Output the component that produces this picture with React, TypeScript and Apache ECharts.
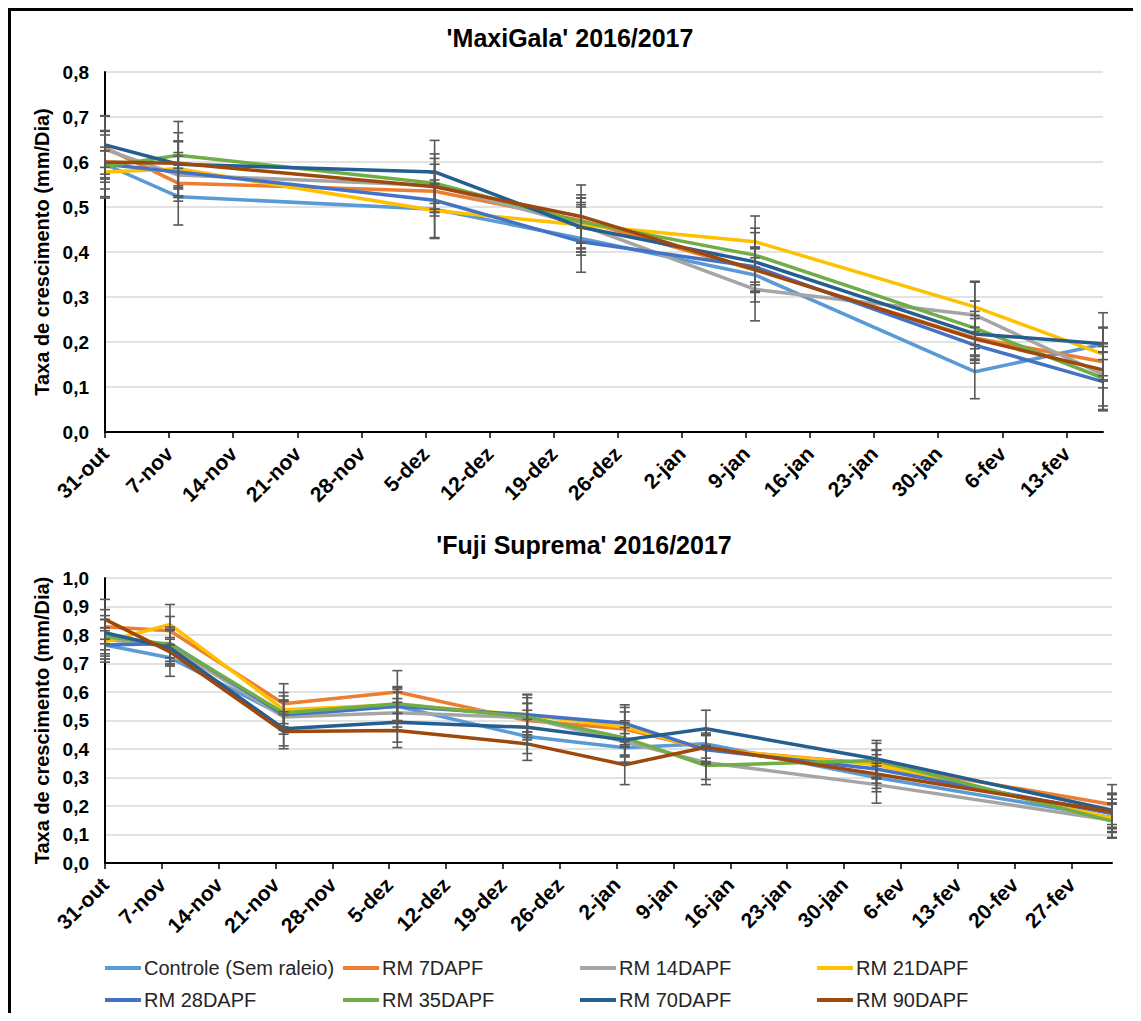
import React, { useEffect, useRef } from "react";
import * as echarts from "echarts";

// ---------- data ----------
const seriesNames = [
  "Controle (Sem raleio)",
  "RM 7DAPF",
  "RM 14DAPF",
  "RM 21DAPF",
  "RM 28DAPF",
  "RM 35DAPF",
  "RM 70DAPF",
  "RM 90DAPF",
];
const seriesColors = ["#5B9BD5", "#ED7D31", "#A5A5A5", "#FFC000", "#4472C4", "#70AD47", "#255E91", "#9E480E"];

const startDate = "2016-10-31";

const maxiTicks = ["31-out", "7-nov", "14-nov", "21-nov", "28-nov", "5-dez", "12-dez", "19-dez", "26-dez", "2-jan", "9-jan", "16-jan", "23-jan", "30-jan", "6-fev", "13-fev"];
const fujiTicks = ["31-out", "7-nov", "14-nov", "21-nov", "28-nov", "5-dez", "12-dez", "19-dez", "26-dez", "2-jan", "9-jan", "16-jan", "23-jan", "30-jan", "6-fev", "13-fev", "20-fev", "27-fev"];

const maxiDates = ["2016-10-31", "2016-11-08", "2016-12-06", "2016-12-22", "2017-01-10", "2017-02-03", "2017-02-17"];
const fujiDates = ["2016-10-31", "2016-11-08", "2016-11-22", "2016-12-06", "2016-12-22", "2017-01-03", "2017-01-13", "2017-02-03", "2017-03-04"];

// 'MaxiGala' growth rate (mm/dia)
const maxiControle = [0.595, 0.523, 0.495, 0.43, 0.349, 0.134, 0.195];
const maxiRM7 = [0.632, 0.553, 0.535, 0.47, 0.36, 0.209, 0.156];
const maxiRM14 = [0.628, 0.571, 0.548, 0.46, 0.317, 0.26, 0.128];
const maxiRM21 = [0.578, 0.585, 0.492, 0.46, 0.423, 0.278, 0.173];
const maxiRM28 = [0.595, 0.578, 0.515, 0.423, 0.367, 0.193, 0.112];
const maxiRM35 = [0.59, 0.615, 0.553, 0.467, 0.393, 0.231, 0.12];
const maxiRM70 = [0.638, 0.595, 0.578, 0.455, 0.378, 0.218, 0.196];
const maxiRM90 = [0.6, 0.597, 0.545, 0.479, 0.361, 0.207, 0.138];

// 'MaxiGala' error (±)
const maxiErrControle = [0.075, 0.063, 0.065, 0.075, 0.06, 0.06, 0.07];
const maxiErrRM7 = [0.07, 0.04, 0.04, 0.05, 0.05, 0.05, 0.04];
const maxiErrRM14 = [0.04, 0.05, 0.06, 0.06, 0.07, 0.075, 0.07];
const maxiErrRM21 = [0.055, 0.06, 0.06, 0.04, 0.057, 0.055, 0.06];
const maxiErrRM28 = [0.03, 0.035, 0.035, 0.03, 0.04, 0.04, 0.065];
const maxiErrRM35 = [0.035, 0.075, 0.065, 0.06, 0.06, 0.06, 0.07];
const maxiErrRM70 = [0.065, 0.07, 0.07, 0.055, 0.065, 0.05, 0.035];
const maxiErrRM90 = [0.06, 0.05, 0.05, 0.07, 0.05, 0.045, 0.04];

// 'Fuji Suprema' growth rate (mm/dia)
const fujiControle = [0.765, 0.72, 0.517, 0.55, 0.444, 0.404, 0.418, 0.3, 0.16];
const fujiRM7 = [0.829, 0.815, 0.559, 0.6, 0.5, 0.47, 0.4, 0.347, 0.205];
const fujiRM14 = [0.785, 0.76, 0.512, 0.527, 0.51, 0.425, 0.353, 0.275, 0.15];
const fujiRM21 = [0.776, 0.837, 0.538, 0.555, 0.52, 0.476, 0.4, 0.345, 0.157];
const fujiRM28 = [0.765, 0.77, 0.52, 0.55, 0.52, 0.49, 0.397, 0.33, 0.174];
const fujiRM35 = [0.794, 0.768, 0.526, 0.559, 0.512, 0.439, 0.342, 0.36, 0.147];
const fujiRM70 = [0.808, 0.755, 0.471, 0.494, 0.476, 0.432, 0.471, 0.365, 0.185];
const fujiRM90 = [0.855, 0.741, 0.461, 0.465, 0.418, 0.345, 0.406, 0.312, 0.18];

// 'Fuji Suprema' error (±)
const fujiErrControle = [0.06, 0.065, 0.05, 0.06, 0.06, 0.05, 0.05, 0.05, 0.05];
const fujiErrRM7 = [0.06, 0.05, 0.07, 0.075, 0.06, 0.06, 0.05, 0.05, 0.07];
const fujiErrRM14 = [0.07, 0.06, 0.06, 0.05, 0.05, 0.05, 0.06, 0.065, 0.06];
const fujiErrRM21 = [0.05, 0.07, 0.06, 0.06, 0.06, 0.07, 0.05, 0.05, 0.05];
const fujiErrRM28 = [0.05, 0.05, 0.05, 0.05, 0.07, 0.065, 0.05, 0.05, 0.05];
const fujiErrRM35 = [0.06, 0.06, 0.06, 0.06, 0.08, 0.06, 0.067, 0.06, 0.06];
const fujiErrRM70 = [0.06, 0.06, 0.06, 0.07, 0.06, 0.06, 0.065, 0.065, 0.06];
const fujiErrRM90 = [0.07, 0.05, 0.06, 0.06, 0.058, 0.07, 0.05, 0.05, 0.06];

const maxiValues = [maxiControle, maxiRM7, maxiRM14, maxiRM21, maxiRM28, maxiRM35, maxiRM70, maxiRM90];
const maxiErrors = [maxiErrControle, maxiErrRM7, maxiErrRM14, maxiErrRM21, maxiErrRM28, maxiErrRM35, maxiErrRM70, maxiErrRM90];
const fujiValues = [fujiControle, fujiRM7, fujiRM14, fujiRM21, fujiRM28, fujiRM35, fujiRM70, fujiRM90];
const fujiErrors = [fujiErrControle, fujiErrRM7, fujiErrRM14, fujiErrRM21, fujiErrRM28, fujiErrRM35, fujiErrRM70, fujiErrRM90];

// ---------- helpers ----------
const FONT = "'Liberation Sans', Arial, sans-serif";
const dayOf = (d: string) => Math.round((Date.parse(d) - Date.parse(startDate)) / 86400000);
const fmtY = (v: number) => v.toFixed(1).replace(".", ",");

function errorRenderItem(params: any, api: any) {
  const x = api.value(0);
  const lo = api.value(1);
  const hi = api.value(2);
  const a = api.coord([x, hi]);
  const b = api.coord([x, lo]);
  const w = 5;
  const st = { stroke: "#595959", lineWidth: 1.6 };
  return {
    type: "group",
    children: [
      { type: "line", shape: { x1: a[0], y1: a[1], x2: b[0], y2: b[1] }, style: st },
      { type: "line", shape: { x1: a[0] - w, y1: a[1], x2: a[0] + w, y2: a[1] }, style: st },
      { type: "line", shape: { x1: b[0] - w, y1: b[1], x2: b[0] + w, y2: b[1] }, style: st },
    ],
  };
}

function makeXAxis(gridIndex: number, ticks: string[], max: number) {
  const vals = ticks.map((_, i) => i * 7);
  return {
    type: "value",
    gridIndex,
    min: 0,
    max,
    interval: 7,
    axisLine: { show: true, lineStyle: { color: "#000", width: 2 } },
    axisTick: { show: true, length: 6, customValues: vals, lineStyle: { color: "#000", width: 1.5 } },
    axisLabel: {
      customValues: vals,
      rotate: 45,
      margin: 18,
      formatter: (v: number) => ticks[Math.round(v / 7)] ?? "",
      fontFamily: FONT,
      fontWeight: "bold",
      fontSize: 21,
      color: "#000",
    },
    splitLine: { show: false },
  };
}

function makeYAxis(gridIndex: number, max: number) {
  return {
    type: "value",
    gridIndex,
    min: 0,
    max,
    interval: 0.1,
    axisLine: { show: true, lineStyle: { color: "#000", width: 2 } },
    axisTick: { show: false },
    splitLine: { show: true, lineStyle: { color: "#D9D9D9", width: 1.5 } },
    axisLabel: { formatter: fmtY, margin: 16, fontFamily: FONT, fontWeight: "bold", fontSize: 19, color: "#000" },
    name: "Taxa de crescimento (mm/Dia)",
    nameLocation: "middle",
    nameGap: 50,
    nameTextStyle: { fontFamily: FONT, fontWeight: "bold", fontSize: 20, color: "#000" },
  };
}

function buildSeries(gridIndex: number, dates: string[], values: number[][], errors: number[][]) {
  const days = dates.map(dayOf);
  const lines = values.map((vals, i) => ({
    type: "line",
    name: seriesNames[i],
    xAxisIndex: gridIndex,
    yAxisIndex: gridIndex,
    data: vals.map((v, j) => [days[j], v]),
    symbol: "none",
    lineStyle: { color: seriesColors[i], width: 3.5 },
    itemStyle: { color: seriesColors[i] },
    z: 2,
    silent: true,
  }));
  const bars = values.map((vals, i) => ({
    type: "custom",
    xAxisIndex: gridIndex,
    yAxisIndex: gridIndex,
    renderItem: errorRenderItem,
    encode: { x: 0, y: [1, 2] },
    data: vals.map((v, j) => [days[j], v - errors[i][j], v + errors[i][j]]),
    z: 3,
    silent: true,
    clip: false,
  }));
  return [...lines, ...bars];
}

export default function App() {
  const ref = useRef<HTMLDivElement>(null);

  useEffect(() => {
    document.body.style.overflow = "hidden";
    if (!ref.current) return;
    const chart = echarts.init(ref.current, null, { renderer: "svg" });

    const maxiMax = dayOf(maxiDates[maxiDates.length - 1]);
    const fujiMax = dayOf(fujiDates[fujiDates.length - 1]);

    const legendX = [94, 332, 569, 806];
    const legendY = [947, 979];

    const option: any = {
      animation: false,
      backgroundColor: "#fff",
      textStyle: { fontFamily: FONT },
      graphic: [
        {
          type: "text",
          x: 559,
          y: 27,
          style: { text: "'MaxiGala' 2016/2017", align: "center", verticalAlign: "middle", fontFamily: FONT, fontWeight: "bold", fontSize: 25, fill: "#000" },
        },
        {
          type: "text",
          x: 573,
          y: 534,
          style: { text: "'Fuji Suprema' 2016/2017", align: "center", verticalAlign: "middle", fontFamily: FONT, fontWeight: "bold", fontSize: 25, fill: "#000" },
        },
      ],
      grid: [
        { left: 94, top: 61, width: 998, height: 360 },
        { left: 94, top: 567, width: 1007, height: 285 },
      ],
      xAxis: [makeXAxis(0, maxiTicks, maxiMax), makeXAxis(1, fujiTicks, fujiMax)],
      yAxis: [makeYAxis(0, 0.8), makeYAxis(1, 1.0)],
      legend: seriesNames.map((n, i) => ({
        data: [n],
        left: legendX[i % 4],
        top: legendY[Math.floor(i / 4)],
        icon: "rect",
        itemWidth: 36,
        itemHeight: 4,
        padding: 0,
        selectedMode: false,
        textStyle: { fontFamily: FONT, fontSize: 20, color: "#262626", padding: [0, 0, 0, -2] },
      })),
      series: [
        ...buildSeries(0, maxiDates, maxiValues, maxiErrors),
        ...buildSeries(1, fujiDates, fujiValues, fujiErrors),
      ],
    };
    chart.setOption(option);
    return () => chart.dispose();
  }, []);

  return (
    <div
      style={{
        width: 1133,
        height: 1005,
        borderTop: "3px solid #000",
        borderLeft: "3px solid #000",
        boxSizing: "border-box",
        background: "#fff",
      }}
    >
      <div ref={ref} style={{ width: 1130, height: 1002 }} />
    </div>
  );
}
